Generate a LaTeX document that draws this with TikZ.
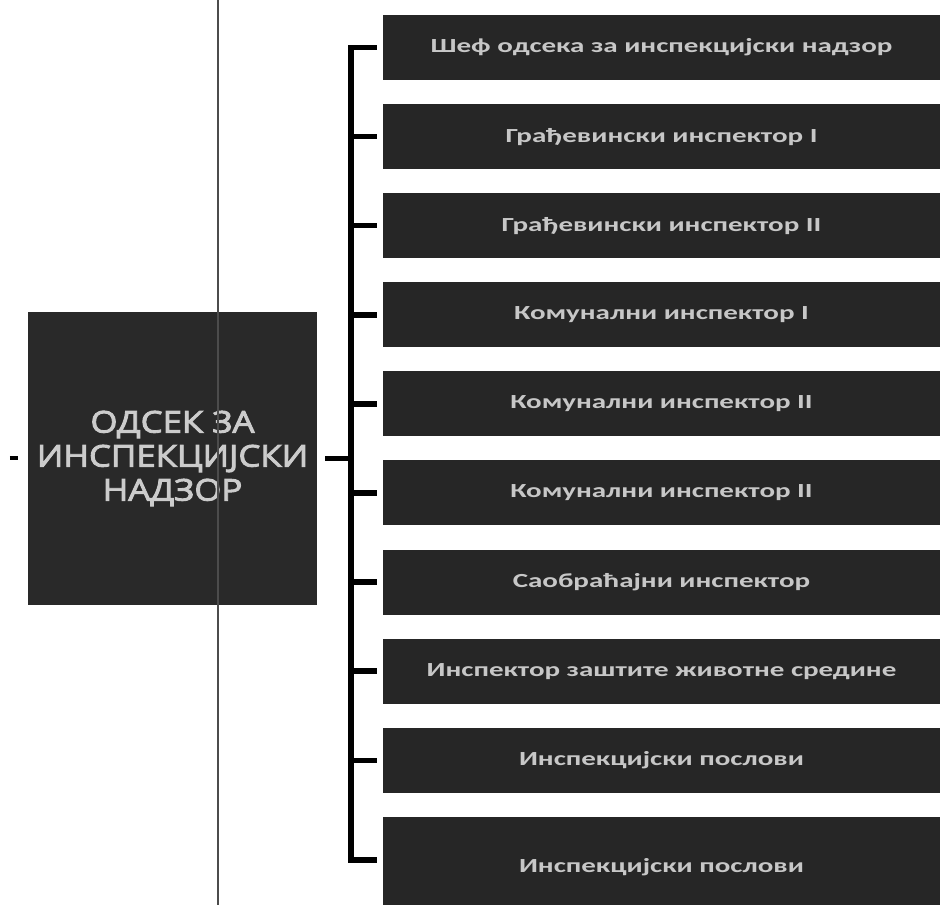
\documentclass[tikz,border=0pt]{standalone}
\usepackage{fontspec}
\setmainfont{Open Sans}
\newfontfamily\headfont{Open Sans}[FakeStretch=1.16, FakeBold=3]
\newfontfamily\postfont{Carlito}[FakeStretch=1.45]
\usetikzlibrary{positioning}

\begin{document}
\begin{tikzpicture}[
  x=1pt, y=1pt,
  dept/.style={
    rectangle, fill=black!84, inner sep=0pt,
    minimum width=289pt, minimum height=293pt,
    text=black!20, align=center,
    font=\headfont\fontsize{30}{34}\selectfont
  },
  post/.style={
    rectangle, fill=black!85, inner sep=0pt,
    minimum width=557pt, minimum height=65pt,
    text=black!22, font=\postfont\bfseries\fontsize{20}{24}\selectfont
  },
  link/.style={line width=5.5pt, color=black},
  rule/.style={line width=1.5pt, color=black!70},
]
\useasboundingbox (0,0) rectangle (940,905);

%%% Department box (left)
\node[dept] (dept) at (172.5,446.5) {ОДСЕК ЗА\\ИНСПЕКЦИЈСКИ\\НАДЗОР};

%%% Posts (right column)
\node[post] (p1) at (661.5,857.5) {Шеф одсека за инспекцијски надзор};
\node[post] (p2) at (661.5,768.4) {Грађевински инспектор I};
\node[post] (p3) at (661.5,679.3) {Грађевински инспектор II};
\node[post] (p4) at (661.5,590.2) {Комунални инспектор I};
\node[post] (p5) at (661.5,501.1) {Комунални инспектор II};
\node[post] (p6) at (661.5,412.0) {Комунални инспектор II};
\node[post] (p7) at (661.5,322.9) {Саобраћајни инспектор};
\node[post] (p8) at (661.5,233.8) {Инспектор заштите животне средине};
\node[post] (p9) at (661.5,144.7) {Инспекцијски послови};
\node[post, minimum height=100pt] (p10) at (661.5,38) {Инспекцијски послови};

%%% Bus line
\coordinate (busx) at (351,857.5);
\draw[link] ([xshift=-6pt]p1.west) -| (busx)
  |- ([xshift=-6pt,yshift=7pt]p10.west);

%%% Ticks to the posts
\draw[link] ([xshift=-6pt]p2.west) -- (p2.west -| busx);
\draw[link] ([xshift=-6pt]p3.west) -- (p3.west -| busx);
\draw[link] ([xshift=-6pt]p4.west) -- (p4.west -| busx);
\draw[link] ([xshift=-6pt]p5.west) -- (p5.west -| busx);
\draw[link] ([xshift=-6pt]p6.west) -- (p6.west -| busx);
\draw[link] ([xshift=-6pt]p7.west) -- (p7.west -| busx);
\draw[link] ([xshift=-6pt]p8.west) -- (p8.west -| busx);
\draw[link] ([xshift=-6pt]p9.west) -- (p9.west -| busx);

%%% Department to bus, and the stub on its left
\draw[link] ([xshift=8pt]dept.east) -- (dept.east -| busx);
\draw[link, line width=4pt] ([xshift=-18pt]dept.west) -- ([xshift=-10pt]dept.west);

%%% Thin vertical rule across the page
\coordinate (rtop) at (218,905);
\coordinate (rbot) at (218,0);
\draw[rule] (rtop) -- (rbot);

\end{tikzpicture}
\end{document}
